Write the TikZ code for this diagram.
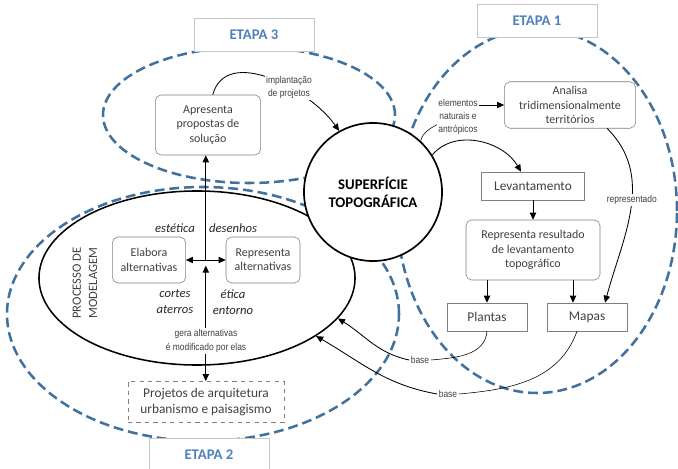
\documentclass[tikz,border=0pt]{standalone}
\usepackage{fontspec}
\setmainfont{Carlito}
\newfontfamily\narrowfont[FakeStretch=0.86]{Liberation Sans}
\usepackage{xcolor}
\usetikzlibrary{positioning,shapes.geometric,arrows.meta,calc}
\definecolor{etpblue}{RGB}{65,113,156}
\definecolor{etptext}{RGB}{79,129,189}
\definecolor{boxgray}{RGB}{127,127,127}
\definecolor{txtgray}{RGB}{64,64,64}

\begin{document}
\begin{tikzpicture}[x=0.025cm, y=0.025cm,
        zona/.style={draw=etpblue, line width=1.8pt,
                  dash pattern=on 7pt off 3.5pt},
        etp/.style={draw=gray!45, fill=white, minimum width=3cm,
                  minimum height=0.82cm, text=etptext,
                  font=\bfseries\fontsize{10.5}{12}\selectfont},
        rnd/.style={draw=boxgray, fill=white, rounded corners=4pt,
                  align=center, text=txtgray,
                  font=\fontsize{8.5}{10.2}\selectfont},
        sq/.style={draw=boxgray, fill=white, align=center, text=txtgray,
                  minimum width=2cm, minimum height=0.7cm,
                  font=\fontsize{9.5}{11}\selectfont},
        nar/.style={font=\narrowfont\fontsize{7}{9.4}\selectfont,
                  text=txtgray, align=center, inner sep=1pt},
        itl/.style={font=\itshape\fontsize{9}{11.4}\selectfont,
                  align=center, text=black!85},
        arr/.style={-{Triangle[length=5pt,width=4.5pt]}, line width=0.6pt},
        dbl/.style={{Triangle[length=5pt,width=4.5pt]}-{Triangle[length=5pt,width=4.5pt]},
                  line width=0.6pt}
      ]
        \useasboundingbox (0,0) rectangle (678,468);
        \clip (0,0) rectangle (678,468);
        % etapas
        \draw[zona] (249,353) ellipse [x radius=146, y radius=68];
        \draw[zona] (537,257) ellipse [x radius=140, y radius=182];
        \draw[zona] (203,154) ellipse [x radius=196, y radius=127];
        \node[draw, line width=1.1pt, ellipse, minimum width=7.9cm,
              minimum height=4.35cm, inner sep=0pt] (mod) at (197,190) {};
        \node[align=center, rotate=90, text=txtgray,
              font=\fontsize{9}{11.5}\selectfont] (pm) at (85,185)
              {PROCESSO DE\\MODELAGEM};
        \node[draw, circle, line width=1.2pt, fill=white, minimum size=3.45cm,
              align=center, font=\bfseries\fontsize{10.5}{12.8}\selectfont]
              (sup) at (373,276) {SUPERFÍCIE\\TOPOGRÁFICA};
        \node[etp] (e3) at (254,433) {ETAPA 3};
        \node[etp] (e1) at (537,447) {ETAPA 1};
        \node[etp] (e2) at (209,13) {ETAPA 2};
        % etapa 3 e 2
        \node[rnd, minimum width=2.63cm, minimum height=1.5cm] (apr) at (208,343)
              {Apresenta\\propostas de\\solução};
        \node[rnd, minimum width=1.83cm, minimum height=1.15cm] (ela) at (149,208)
              {Elabora\\alternativas};
        \node[rnd, minimum width=1.85cm, minimum height=1.15cm] (rep) at (263,208)
              {Representa\\alternativas};
        \node[itl] at (175,240) {estética};
        \node[itl] at (233,240) {desenhos};
        \node[itl] at (175,166) {cortes\\aterros};
        \node[itl] at (233,166) {ética\\entorno};
        \node[nar] (ger) at (206,127) {gera alternativas\\é modificado por elas};
        \node[sq, dashed, minimum width=3.9cm, minimum height=1.03cm,
              font=\fontsize{9.5}{10.7}\selectfont] (proj) at (206,66)
              {Projetos de arquitetura\\urbanismo e paisagismo};
        \coordinate (jn) at ($(ela.east)!0.5!(rep.west)$);
        \draw[dbl] (ela.east) -- (rep.west);
        \draw[arr] (jn) -- (jn |- apr.south);
        \draw[arr] (ger.north -| jn) -- ([yshift=-4pt]jn);
        \draw[arr] (ger.south -| jn) -- (jn |- proj.north);
        \draw[arr] ([xshift=0.12cm]apr.north) to[out=75,in=125]
              node[pos=0.62, nar, fill=white] {implantação\\de projetos} (sup.119);
        % etapa 1
        \node[rnd, minimum width=3.28cm, minimum height=1.13cm] (ana) at (570,363)
              {Analisa\\tridimensionalmente\\territórios};
        \node[sq, minimum width=2.58cm] (lev) at (533,282) {Levantamento};
        \node[rnd, minimum width=3.35cm, minimum height=1.5cm] (res) at (533,218)
              {Representa resultado\\de levantamento\\topográfico};
        \node[sq] (pla) at (487,151) {Plantas};
        \node[sq] (map) at (587,151) {Mapas};
        \node[nar] (elm) at (458,351) {elementos\\naturais e\\antrópicos};
        \draw[arr] (elm.east |- ana.west) -- (ana.west);
        \draw (sup.47) to[out=75,in=-150] (elm.200);
        \draw[arr] (sup.32) to[out=50,in=120] ([xshift=-0.3cm]lev.north);
        \draw[arr] (lev) -- (res);
        \draw[arr] (res.south -| pla.north) -- (pla.north);
        \draw[arr] ([xshift=1cm]res.south) -- ([xshift=1cm]res.south |- map.north);
        \draw[arr] ([xshift=0.93cm]ana.south) to[out=-45,in=75]
              node[pos=0.45, nar, fill=white] {representado} ([xshift=0.45cm]map.north);
        \node[nar] (b1) at (420,108) {base};
        \node[nar] (b2) at (448,74) {base};
        \draw (pla.south) to[out=-95,in=5] (b1.east);
        \draw[arr] (b1.west) to[out=168,in=-32] (mod.-16);
        \draw ([xshift=-0.25cm]map.south) to[out=-110,in=5] (b2.east);
        \draw[arr] (b2.west) to[out=170,in=-30] (mod.-26);
      \end{tikzpicture}
\end{document}
